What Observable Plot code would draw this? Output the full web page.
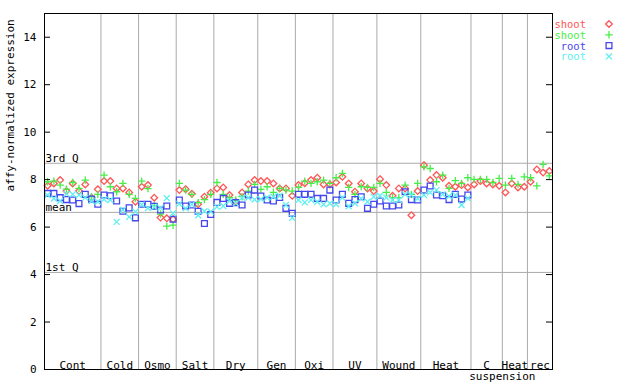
<!DOCTYPE html>
<html><head><meta charset="utf-8">
<script src="https://cdn.jsdelivr.net/npm/d3@7"></script>
<script src="https://cdn.jsdelivr.net/npm/@observablehq/plot@0.6"></script>
<style>
body{margin:0;background:#fff;}
#wrap{position:relative;width:640px;height:384px;font-family:"DejaVu Sans Mono",monospace;}
#wrap svg.legend{position:absolute;left:0;top:0;pointer-events:none;}
</style></head><body><div id="wrap"></div>
<script>
const groupNames = ["Cont","Cold","Osmo","Salt","Dry","Gen","Oxi","UV","Wound","Heat","C","Heat","rec"];
const groupSizes = [9,6,6,6,7,6,6,7,7,8,5,4,4];
const subLabel = "suspension";
const yTicks = [0,2,4,6,8,10,12,14];
const refLabels = ["3rd Q","mean","1st Q"];
const refValues = [8.69, 6.62, 4.09];
const seriesNames = ["shoot","shoot","root","root"];
const seriesColors = ["#ff5555","#48ee48","#4646ee","#5ef0f0"];
const seriesSymbols = ["diamond2","plus","square2","times"];
const seriesR = [3.0, 2.5, 3.7, 2.8];

// shoot (red diamonds)
const shootA = [7.74,7.84,7.98,7.52,7.84,7.52,7.80,7.24,7.59,
  7.94,7.94,7.63,7.63,7.46,7.07,
  7.70,7.77,7.24,6.40,6.37,6.33,
  7.56,7.60,7.40,6.96,7.28,7.45,
  7.63,7.67,7.35,7.07,7.46,7.80,7.98,
  7.94,7.94,7.84,7.63,7.63,7.32,
  7.77,7.85,7.98,8.08,7.80,7.80,
  7.88,8.12,7.84,7.49,7.84,7.63,7.52,
  8.02,7.77,7.32,7.63,7.63,6.50,7.52,
  8.61,7.98,8.19,8.08,7.74,7.70,7.77,7.67,
  7.80,7.94,7.84,7.80,7.74,
  7.46,7.84,7.67,7.70,
  7.91,8.43,8.30,8.36];
// shoot (green plus)
const shootB = [7.91,7.94,7.77,7.60,7.88,7.63,7.98,7.28,7.38,
  8.19,7.70,7.49,7.84,7.38,7.21,
  7.94,7.62,6.90,6.55,6.04,6.08,
  7.84,7.56,7.38,7.03,7.16,7.38,
  7.88,7.38,7.24,7.14,7.28,7.52,7.80,
  7.59,7.70,7.46,7.63,7.56,7.52,
  7.67,7.94,7.84,7.91,7.98,7.84,
  8.08,8.26,7.67,7.38,7.70,7.67,7.67,
  7.84,7.46,7.24,7.24,7.77,7.38,7.84,
  8.54,8.47,7.91,8.19,7.63,7.96,7.84,8.08,
  8.01,8.01,8.01,7.88,8.05,
  7.77,8.05,7.80,8.12,
  8.08,7.74,8.64,8.16];
// root (blue squares)
const rootA = [7.42,7.42,7.24,7.16,7.14,6.99,7.38,7.18,6.96,
  7.35,7.32,7.10,6.67,6.81,6.39,
  6.96,6.96,6.88,6.72,6.89,6.33,
  7.14,6.89,6.93,6.67,6.15,6.53,
  7.04,7.21,7.00,7.03,6.93,7.35,7.56,
  7.31,7.14,7.10,7.25,6.79,6.58,
  7.38,7.38,7.38,7.21,7.21,7.56,
  7.14,7.38,7.00,7.16,7.28,6.79,6.96,
  7.10,6.89,6.89,6.93,7.49,7.16,7.14,
  7.56,7.73,7.35,7.32,7.16,7.38,7.18,7.35,
  null,null,null,null,null,
  null,null,null,null,
  null,null,null,null];
// root (cyan times)
const rootB = [7.35,7.20,7.10,7.40,7.38,7.35,7.24,7.10,7.07,
  7.17,7.14,6.22,6.72,6.43,6.65,
  6.95,6.80,6.85,6.81,7.22,6.58,
  6.98,6.79,6.95,6.50,6.67,6.65,
  6.85,6.89,7.10,7.00,7.24,7.24,7.16,
  7.18,7.24,7.28,7.32,6.93,6.39,
  7.14,7.04,7.14,7.07,6.96,7.00,
  6.96,7.24,6.88,7.00,7.20,7.07,7.28,
  7.32,7.24,7.14,7.14,7.38,7.35,7.20,
  7.35,7.46,7.56,7.38,7.30,7.35,6.93,7.21,
  null,null,null,null,null,
  null,null,null,null,
  null,null,null,null];

const seriesValues = [shootA, shootB, rootA, rootB];
const nSlots = d3.sum(groupSizes);
const starts = d3.cumsum([0, ...groupSizes]);
const bounds = starts.slice(1, -1).map(d => d - 0.5);
const centers = groupSizes.map((s, i) => starts[i] + s / 2 - 0.5);

const marks = [
  Plot.ruleX(bounds, {stroke: "#aaaaaa"}),
  Plot.ruleY(refValues, {stroke: "#aaaaaa"}),
  Plot.text(refLabels, {y: (d, i) => refValues[i], frameAnchor: "left", textAnchor: "start", lineAnchor: "bottom", dx: 1, dy: -1, fill: "black"}),
];
seriesValues.forEach((vals, s) => {
  const rows = [];
  vals.forEach((v, i) => { if (v != null) rows.push({i, v}); });
  marks.push(Plot.dot(rows, {x: "i", y: "v", symbol: seriesSymbols[s], r: seriesR[s], stroke: seriesColors[s], strokeWidth: 1.3}));
});
marks.push(
  Plot.ruleY(yTicks, {insetRight: 502, stroke: "black"}),
  Plot.ruleY(yTicks, {insetLeft: 502, stroke: "black"}),
  Plot.frame({stroke: "black"}),
  Plot.text(groupNames, {x: (d, i) => centers[i], frameAnchor: "bottom", lineAnchor: "bottom", dy: -1, fill: "black"}),
  Plot.text([subLabel], {x: [starts[11] - 0.5], frameAnchor: "bottom", lineAnchor: "top", dy: 3, fill: "black"}),
  Plot.text(["affy-normalized expression"], {frameAnchor: "left", rotate: -90, dx: -34, fill: "black"})
);

const chart = Plot.plot({
  width: 640, height: 384,
  marginLeft: 44, marginRight: 88, marginTop: 13, marginBottom: 15,
  style: {fontFamily: '"DejaVu Sans Mono", monospace', fontSize: "11px", color: "black", background: "white", overflow: "visible"},
  x: {domain: [-0.5, nSlots - 0.5], axis: null},
  y: {domain: [0, 15], ticks: yTicks, tickSize: 0, tickPadding: 8, label: null},
  marks
});
const wrap = document.getElementById("wrap");
wrap.appendChild(chart);

// legend
const leg = d3.select(wrap).append("svg").attr("class", "legend").attr("width", 640).attr("height", 384);
const symMap = {diamond2: d3.symbolDiamond2, plus: d3.symbolPlus, square2: d3.symbolSquare2, times: d3.symbolTimes};
seriesNames.forEach((name, i) => {
  const y = 24 + i * 10.8;
  leg.append("text").attr("x", 586).attr("y", y).attr("text-anchor", "end").attr("dominant-baseline", "central")
    .attr("font-family", '"DejaVu Sans Mono", monospace').attr("font-size", 10.5).attr("fill", seriesColors[i]).text(name);
  leg.append("path").attr("transform", `translate(609,${y})`)
    .attr("d", d3.symbol(symMap[seriesSymbols[i]], Math.PI * seriesR[i] * seriesR[i])())
    .attr("fill", "none").attr("stroke", seriesColors[i]).attr("stroke-width", 1.3);
});
</script></body></html>
